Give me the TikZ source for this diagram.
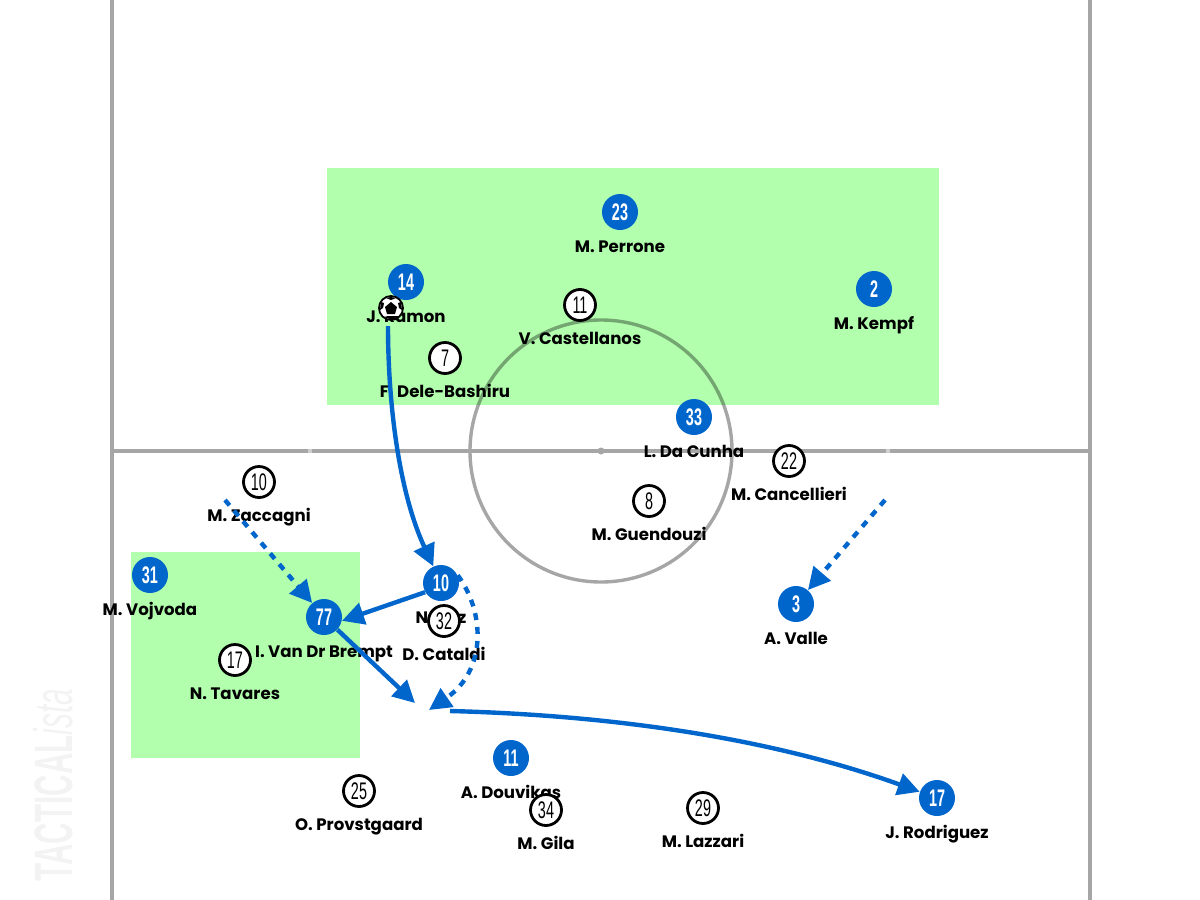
\documentclass[tikz,border=0pt]{standalone}
\usepackage{fontspec}
\setmainfont{Poppins}
\newfontfamily\numfont[FakeStretch=0.6]{Liberation Sans}
\newfontfamily\markfont[FakeStretch=0.55]{Liberation Sans}
\usepackage{tikz}
\usetikzlibrary{positioning, arrows.meta}
\definecolor{runblue}{HTML}{0066CC}
\definecolor{zonegreen}{HTML}{B2FFAE}
\definecolor{pitchgrey}{HTML}{A6A6A6}
\definecolor{markgrey}{HTML}{F3F3F3}
\tikzset{
  bluep/.style={circle, fill=runblue, text=white, inner sep=0pt, minimum size=18pt, font=\numfont\bfseries\fontsize{12}{12}\selectfont},
  whitep/.style={circle, draw=black, line width=1.4pt, fill=white, text=black, inner sep=0pt, minimum size=15.5pt, font=\numfont\fontsize{12}{12}\selectfont},
  pname/.style={inner sep=0pt, text height=6pt, text depth=1.5pt, below=5pt of #1, font=\bfseries\fontsize{8.3}{10}\selectfont},
  passline/.style={draw=runblue, line width=2.2pt, -{Triangle[length=11pt, width=11pt]}},
  runline/.style={passline, dash pattern=on 3.5pt off 3.5pt}
}

\begin{document}
\begin{tikzpicture}[x=0.5pt, y=-0.5pt]
  \useasboundingbox (0,0) rectangle (1200,900);
  % pitch
  \draw[pitchgrey, line width=2pt] (112,0) -- (112,900);
  \draw[pitchgrey, line width=2pt] (1090,0) -- (1090,900);
  \draw[pitchgrey, line width=2pt] (112,451) -- (1090,451);
  \draw[white!45!pitchgrey, line width=2pt] (308,451) -- (312,451);
  \draw[white!45!pitchgrey, line width=2pt] (886,451) -- (890,451);
  \draw[pitchgrey, line width=1.7pt] (601,451) circle (131);
  \fill[pitchgrey] (601,451) circle (3.5);
  % zones
  \begin{scope}[blend mode=multiply]
    \fill[zonegreen] (327,168) rectangle (939,404.5);
    \fill[zonegreen] (131,552) rectangle (360,757.5);
  \end{scope}
  % mark
  \node[rotate=90, anchor=west, inner sep=0pt, text=markgrey, font=\fontsize{27}{27}\selectfont] (mark) at (53,882) {\markfont\bfseries TACTICAL\itshape\mdseries ista};

  % names first, the discs sit on top of them
  \coordinate (c23) at (620,212);
  \coordinate (c14) at (406,282);
  \coordinate (c2) at (874,289);
  \coordinate (c33) at (694,417);
  \coordinate (c31) at (150,575);
  \coordinate (c77) at (324,617);
  \coordinate (c10) at (441,583);
  \coordinate (c3) at (796,604);
  \coordinate (c9) at (511,758);
  \coordinate (c17) at (937,798);
  \coordinate (d11) at (580,305);
  \coordinate (d7) at (445,358);
  \coordinate (d22) at (789,461);
  \coordinate (d8) at (649,501);
  \coordinate (d10) at (259,482);
  \coordinate (d17) at (235,660);
  \coordinate (d32) at (444,621);
  \coordinate (d25) at (359,791);
  \coordinate (d34) at (546,810);
  \coordinate (d29) at (703,808);

  \node[bluep] (p23) at (c23) {23};
  \node[bluep] (p14) at (c14) {14};
  \node[bluep] (p2) at (c2) {2};
  \node[bluep] (p33) at (c33) {33};
  \node[bluep] (p31) at (c31) {31};
  \node[bluep] (p77) at (c77) {77};
  \node[bluep] (p10) at (c10) {10};
  \node[bluep] (p3) at (c3) {3};
  \node[bluep] (p9) at (c9) {11};
  \node[bluep] (p17) at (c17) {17};

  \node[pname=p23] (n23) {M. Perrone};
  \node[pname=p14] (n14) {J. Ramon};
  \node[pname=p2] (n2) {M. Kempf};
  \node[pname=p33] (n33) {L. Da Cunha};
  \node[pname=p31] (n31) {M. Vojvoda};
  \node[pname=p77] (n77) {I. Van Dr Brempt};
  \node[pname=p10] (n10) {N. Paz};
  \node[pname=p3] (n3) {A. Valle};
  \node[pname=p9] (n9) {A. Douvikas};
  \node[pname=p17] (n17) {J. Rodriguez};

  \node[whitep] (w11) at (d11) {11};
  \node[whitep] (w7) at (d7) {7};
  \node[whitep] (w22) at (d22) {22};
  \node[whitep] (w8) at (d8) {8};
  \node[whitep] (w10) at (d10) {10};
  \node[whitep] (w17) at (d17) {17};
  \node[whitep] (w32) at (d32) {32};
  \node[whitep] (w25) at (d25) {25};
  \node[whitep] (w34) at (d34) {34};
  \node[whitep] (w29) at (d29) {29};

  \node[pname=w11] (m11) {V. Castellanos};
  \node[pname=w7] (m7) {F. Dele-Bashiru};
  \node[pname=w22] (m22) {M. Cancellieri};
  \node[pname=w8] (m8) {M. Guendouzi};
  \node[pname=w10] (m10) {M. Zaccagni};
  \node[pname=w17] (m17) {N. Tavares};
  \node[pname=w32] (m32) {D. Cataldi};
  \node[pname=w25] (m25) {O. Provstgaard};
  \node[pname=w34] (m34) {M. Gila};
  \node[pname=w29] (m29) {M. Lazzari};

  % ball
  \node[circle, draw=black, line width=0.9pt, fill=white, minimum size=12pt, inner sep=0pt] (ball) at (391,308) {};
  \fill[black] (391,302) -- (397,307) -- (395,314) -- (387,314) -- (385,307) -- cycle;
  \fill[black] (391,297) -- (396,298) -- (391,300) -- (386,298) -- cycle;
  \fill[black] (401,302) -- (402,310) -- (399,308) -- (398,303) -- cycle;
  \fill[black] (381,302) -- (380,310) -- (383,308) -- (384,303) -- cycle;
  \fill[black] (384,317) -- (390,319) -- (396,319) -- (399,316) -- (394,316) -- (388,316) -- cycle;

  % runs
  \coordinate (ramonstart) at (388,326);
  \coordinate (zaccstart) at (225,500);
  \coordinate (vallestart) at (885,500);
  \coordinate (passend) at (415,703);
  \coordinate (runend) at (429,710);
  \coordinate (crossstart) at (450,711);
  \draw[passline] (ramonstart) .. controls (388,400) and (398,490) .. (p10);
  \draw[passline] (p10.210) -- (p77.-12);
  \draw[passline] (p77) -- (passend);
  \draw[passline] (crossstart) .. controls (640,716) and (790,745) .. (p17);
  \draw[runline] (zaccstart) -- (p77);
  \draw[runline] (vallestart) -- (p3);
  \draw[runline] (p10.25) .. controls (485,612) and (487,670) .. (runend);
\end{tikzpicture}
\end{document}
